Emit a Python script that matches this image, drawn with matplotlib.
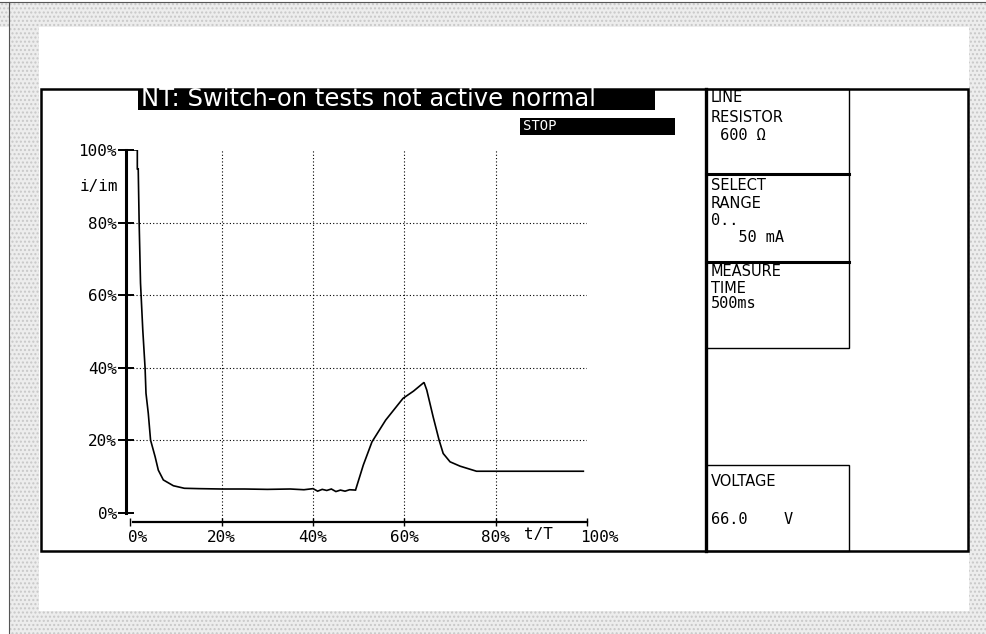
import matplotlib
matplotlib.use("Agg")
import matplotlib.pyplot as plt
import matplotlib.transforms as mtransforms
from matplotlib.patches import Rectangle
from matplotlib.lines import Line2D

# --- data (t/T in %, i/im in %) ---
t_pct = [0.6, 1.5, 1.5, 1.7, 1.9, 2.2, 2.7, 3.2, 3.4, 3.9, 4.4, 5.4, 6.1, 7.2,
         9.4, 11.8, 15, 20, 25, 30, 35, 38, 40, 41, 42, 43, 44, 45, 46, 47,
         48, 49.3, 51, 52.9, 55.9, 59.7, 62, 64.3, 64.9, 66.3, 67.6, 68.5,
         70, 72.2, 75.8, 80, 90, 99.2]
i_pct = [100, 100, 94.8, 94.8, 80.1, 63.3, 50.3, 39.9, 32.9, 27.4, 20, 15.4,
         11.7, 9.0, 7.4, 6.7, 6.6, 6.5, 6.5, 6.4, 6.5, 6.3, 6.6, 5.9, 6.4,
         6.1, 6.5, 5.8, 6.2, 5.9, 6.3, 6.2, 13.1, 19.5, 25.5, 31.5, 33.5,
         35.9, 33.8, 26.4, 20.0, 16.3, 14.0, 12.8, 11.4, 11.4, 11.4, 11.4]

x_ticks = [0, 20, 40, 60, 80, 100]
x_labels = ['0%', '20%', '40%', '60%', '80%', '100%']
y_ticks = [0, 20, 40, 60, 80, 100]
y_labels = ['0%', '20%', '40%', '60%', '80%', '100%']

title_text = 'NT: Switch-on tests not active normal'
status_text = 'STOP'
panel_texts = [
    ('LINE', 'sans', 97), ('RESISTOR', 'sans', 117), (' 600 \u03a9', 'mono', 136),
    ('SELECT', 'sans', 186), ('RANGE', 'sans', 203), ('0..', 'mono', 220),
    ('   50 mA', 'mono', 238),
    ('MEASURE', 'sans', 271), ('TIME', 'sans', 288), ('500ms', 'mono', 304),
    ('VOLTAGE', 'sans', 482), ('66.0    V', 'mono', 519),
]

W, H = 987, 634
SANS = 'DejaVu Sans'
MONO = 'DejaVu Sans Mono'


def fx(px):
    return px / W


def fy(py):
    return 1 - py / H


def frect(x0, y0, x1, y1, **kw):
    # rectangle given in screen pixels (top-left origin)
    return Rectangle((fx(x0), fy(y1)), fx(x1) - fx(x0), fy(y0) - fy(y1),
                     transform=fig.transFigure, **kw)


def fline(x0, y0, x1, y1, **kw):
    return Line2D([fx(x0), fx(x1)], [fy(y0), fy(y1)],
                  transform=fig.transFigure, **kw)


fig = plt.figure(figsize=(W / 100, H / 100), dpi=100)
fig.patch.set_facecolor('white')

# scanned paper border (stippled grey)
for r in [(0, 3, W, 27), (10, 27, 39, H), (969, 27, W, H), (10, 611, W, H)]:
    fig.add_artist(frect(*r, facecolor='#ededed', edgecolor='#c8c8c8',
                         hatch='....', linewidth=0))
fig.add_artist(fline(0, 2, W, 2, color='#555555', lw=0.8))
fig.add_artist(fline(9, 2, 9, H, color='#555555', lw=0.8))

# instrument screen frame
fig.add_artist(frect(41.5, 88.5, 968, 551, facecolor='none',
                     edgecolor='black', linewidth=1.8))
fig.add_artist(fline(706.5, 88.5, 706.5, 551, color='black', lw=2.4))

# right-hand soft-key boxes
for y0, y1 in [(88.5, 174), (174, 262), (262, 348), (465, 551)]:
    fig.add_artist(frect(706.5, y0, 849, y1, facecolor='none',
                         edgecolor='black', linewidth=1.0))
for yy in [174, 262]:
    fig.add_artist(fline(706.5, yy, 849, yy, color='black', lw=2.2))

for txt, kind, yy in panel_texts:
    if kind == 'sans':
        fig.text(fx(711), fy(yy), txt, fontsize=10.5, family=SANS,
                 va='center', ha='left')
    else:
        fig.text(fx(711), fy(yy), txt, fontsize=11, family=MONO,
                 va='center', ha='left')

# title bar and status bar
fig.add_artist(frect(138, 89, 655, 110, facecolor='black', edgecolor='none'))
fig.text(fx(141), fy(99.5), title_text, color='white', fontsize=17.5,
         family=SANS, va='center', ha='left')
fig.add_artist(frect(520, 118, 675, 135, facecolor='black', edgecolor='none'))
fig.text(fx(523), fy(126.5), status_text, color='white', fontsize=10,
         family=MONO, va='center', ha='left')

# --- plot area ---
ax_left, ax_right, ax_top, ax_bot = 125.9, 587.0, 150.0, 522.0
ax = fig.add_axes([fx(ax_left), fy(ax_bot), fx(ax_right) - fx(ax_left),
                   fy(ax_top) - fy(ax_bot)])
ax.set_zorder(5)
ax.set_xlim(-1, 100)
ax.set_ylim(-2.6, 100)
ax.patch.set_alpha(0)

ax.plot(t_pct, i_pct, color='black', lw=1.2, solid_joinstyle='miter')

ax.set_xticks(x_ticks)
ax.set_xticklabels(x_labels, family=MONO, fontsize=11.5)
ax.set_yticks(y_ticks)
ax.set_yticklabels(y_labels, family=MONO, fontsize=11.5)
ax.tick_params(axis='y', direction='inout', length=11, width=1.4, pad=1)
ax.tick_params(axis='x', direction='inout', length=6, width=1.0, pad=3)

for s in ['top', 'right']:
    ax.spines[s].set_visible(False)
ax.spines['left'].set_bounds(0, 100)
ax.spines['left'].set_linewidth(2.2)
ax.spines['bottom'].set_bounds(0.5, 100)
ax.spines['bottom'].set_linewidth(1.6)

# dotted grid, only the inner divisions
for gx in x_ticks[1:-1]:
    ax.axvline(gx, color='black', lw=0.8, ls=(0, (1, 2)), zorder=0)
for gy in y_ticks[1:-1]:
    ax.axhline(gy, color='black', lw=0.8, ls=(0, (1, 2)), zorder=0)

# end labels sit a little apart from their ticks on the real screen
xl = ax.get_xticklabels()
xl[0].set_transform(xl[0].get_transform() +
                    mtransforms.ScaledTranslation(7 / 100, 0, fig.dpi_scale_trans))
xl[-1].set_transform(xl[-1].get_transform() +
                     mtransforms.ScaledTranslation(12 / 100, 0, fig.dpi_scale_trans))

ax.annotate('t/T', xy=(89.3, 0), xycoords=('data', 'axes fraction'),
            xytext=(0, -13), textcoords='offset pixels', ha='center',
            va='center', family=MONO, fontsize=11.5)
ax.annotate('i/im', xy=(0, 90), xycoords=('axes fraction', 'data'),
            xytext=(-8, 0), textcoords='offset pixels', ha='right',
            va='center', family=MONO, fontsize=11.5)

fig.savefig('out.png', dpi=100)
